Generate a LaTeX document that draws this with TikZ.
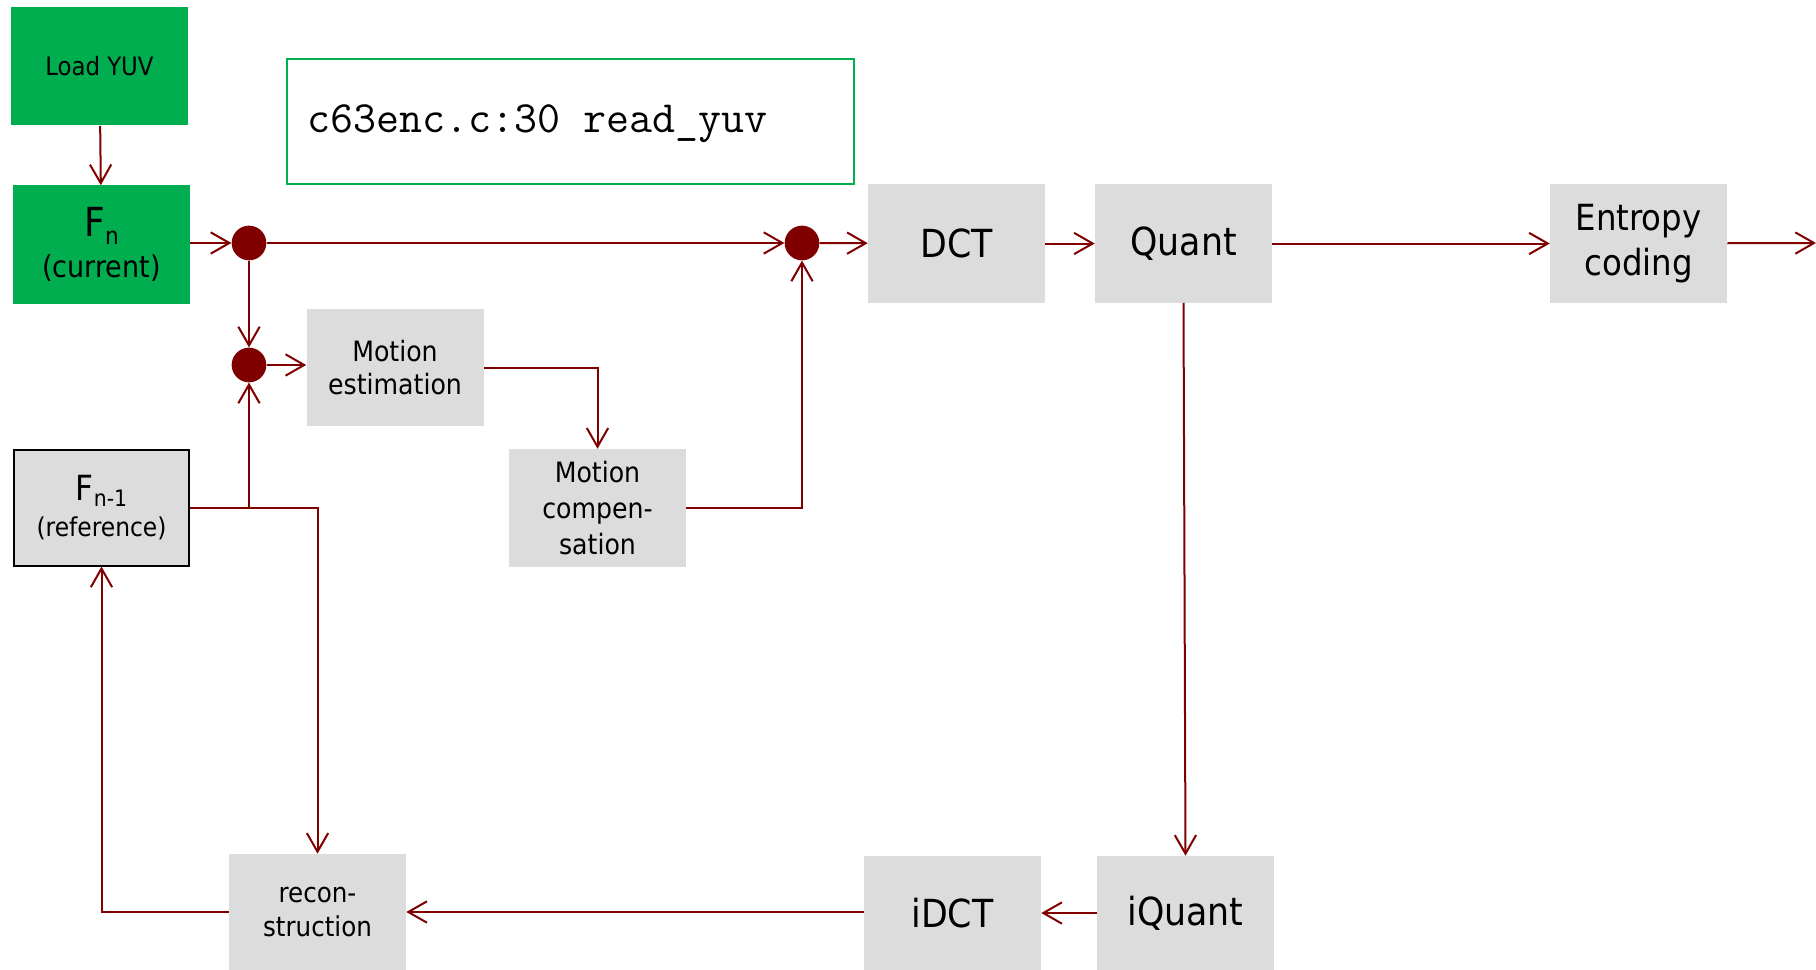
\documentclass[tikz,border=0pt]{standalone}
\usepackage{fontspec}
\setmainfont{DejaVu Sans Condensed}
\usetikzlibrary{arrows.meta}
\definecolor{boxgreen}{HTML}{00AD4F}
\definecolor{codegreen}{HTML}{00B050}
\definecolor{boxgray}{HTML}{DCDCDC}
\definecolor{flow}{HTML}{800000}
\newcommand{\fsz}[2]{\fontsize{#1}{#2}\selectfont}

\begin{document}
\begin{tikzpicture}[x=0.75pt,y=-0.75pt,
  block/.style={rectangle, fill=boxgray, inner sep=0pt, align=center,
    minimum width=132.75pt, minimum height=88.5pt},
  greenblock/.style={block, fill=boxgreen},
  joint/.style={circle, fill=flow, inner sep=0pt, minimum size=26pt},
  flowline/.style={draw=flow, line width=1.5pt},
  flowarrow/.style={flowline, -{Straight Barb[length=14pt,width=16pt]}}
]
\useasboundingbox (0,0) rectangle (1816,970);

% frames
\node[greenblock, font=\fsz{19pt}{23pt}] (load) at (99.5,66.5) {Load YUV};
\node[greenblock, font=\fsz{22.5pt}{31pt}] (fn) at (101.5,244.5)
  {{\fsz{30pt}{31pt}F\raisebox{-0.35ex}{\fsz{18pt}{18pt}n}}\\(current)};
\node[block, draw=black, line width=1.5pt, minimum width=131pt, minimum height=87pt,
  font=\fsz{19.5pt}{27pt}] (fprev) at (101.5,507.5)
  {{\fsz{26pt}{27pt}F\raisebox{-0.3ex}{\fsz{17pt}{17pt}n-1}}\\(reference)};

% source reference
\node[draw=codegreen, line width=1.5pt, minimum width=425pt, minimum height=94pt,
  inner sep=0pt] (code) at (570.5,121.5) {};
\node[anchor=base west, inner sep=0pt, font=\ttfamily\fsz{33.5pt}{35pt}] (codetext)
  at (307,133) {c63enc.c:30 read\_yuv};

% junctions
\node[joint] (j1) at (249,243) {};
\node[joint] (j2) at (249,365) {};
\node[joint] (j3) at (802,243) {};

% processing blocks
\node[block, font=\fsz{21pt}{25pt}, minimum height=87.75pt] (me) at (395,367.5) {Motion\\estimation};
\node[block, font=\fsz{21pt}{27pt}] (mc) at (597.5,508) {Motion\\compen-\\sation};
\node[block, font=\fsz{29pt}{33pt}] (dct) at (956.5,243.5) {DCT};
\node[block, font=\fsz{29pt}{33pt}] (quant) at (1183.5,243.5) {Quant};
\node[block, font=\fsz{27pt}{34pt}] (entropy) at (1638.5,243.5) {\raisebox{-4pt}{Entropy}\\\raisebox{-4pt}{coding}};
\node[block, font=\fsz{29pt}{33pt}, minimum height=85.5pt] (iquant) at (1185.5,913) {iQuant};
\node[block, font=\fsz{29pt}{33pt}, minimum height=85.5pt] (idct) at (952.5,913) {iDCT};
\node[block, font=\fsz{20.5pt}{26pt}, minimum height=87pt] (recon) at (317.5,912) {recon-\\struction};

\coordinate (out) at (1816,243);

% forward path
\draw[flowarrow] (load) -- (fn);
\draw[flowarrow] (fn.east |- j1) -- (j1);
\draw[flowarrow] (j1) -- (j3);
\draw[flowarrow] (j3) -- (dct);
\draw[flowarrow] (dct) -- (quant);
\draw[flowarrow] (quant) -- (entropy);
\draw[flowarrow] (entropy) -- (out);

% motion path
\draw[flowarrow] (j1) -- (j2);
\draw[flowarrow] (j2) -- (j2 -| me.west);
\draw[flowarrow] (me.east) -| (mc.north);
\draw[flowarrow] (mc.east) -| (j3.south);
\draw[flowarrow] (fprev.east -| j2) -- (j2);

% reconstruction loop
\draw[flowarrow] (quant.south) -- (iquant.north);
\draw[flowarrow] (iquant) -- (idct);
\draw[flowarrow] (idct.west |- recon.east) -- (recon.east);
\draw[flowarrow] (fprev.east) -| (recon.north);
\draw[flowarrow] (recon.west) -| (fprev.south);
\end{tikzpicture}
\end{document}
